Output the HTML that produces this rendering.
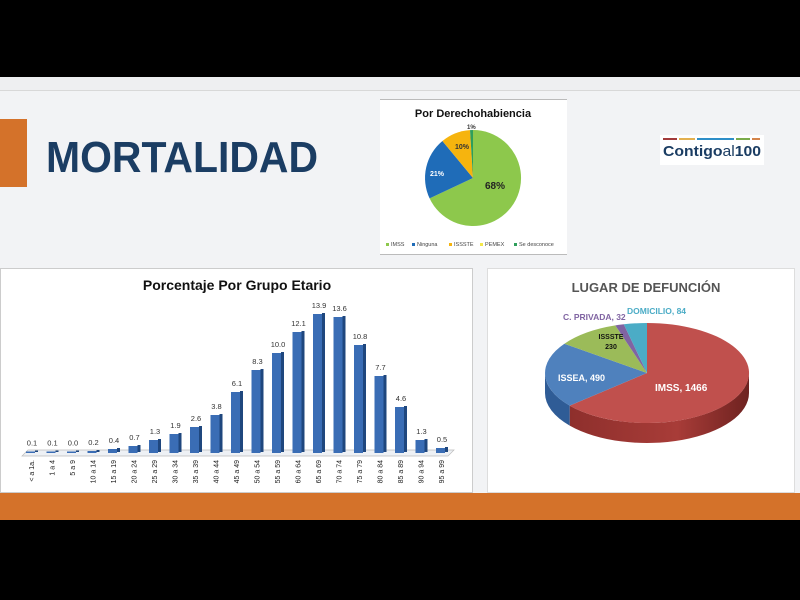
<!DOCTYPE html>
<html><head><meta charset="utf-8"><style>html,body{margin:0;padding:0;background:#000;}svg{display:block}</style></head>
<body>
<svg width="800" height="600" viewBox="0 0 800 600" xmlns="http://www.w3.org/2000/svg" font-family="Liberation Sans, sans-serif">
<defs>
<linearGradient id="red" x1="0" x2="1"><stop offset="0" stop-color="#8e2f2c"/><stop offset="0.6" stop-color="#a83c38"/><stop offset="1" stop-color="#6e2220"/></linearGradient>
</defs>
<rect x="0" y="0" width="800" height="600" fill="#000"/>
<rect x="0" y="77" width="800" height="13" fill="#eeeff1"/>
<rect x="0" y="90" width="800" height="403" fill="#f2f3f5"/>
<line x1="0" y1="90.5" x2="800" y2="90.5" stroke="#d8d8d8"/>
<rect x="0" y="119" width="27" height="68" fill="#d4722a"/>
<text x="46" y="172" font-size="44" font-weight="bold" fill="#1b3d63" textLength="272" lengthAdjust="spacingAndGlyphs">MORTALIDAD</text>

<rect x="380" y="99" width="187" height="156" fill="#fff"/>
<line x1="380" y1="99.5" x2="567" y2="99.5" stroke="#bbb"/>
<line x1="380" y1="254.5" x2="567" y2="254.5" stroke="#bbb"/>
<text x="473" y="117" font-size="11" font-weight="bold" text-anchor="middle" fill="#111">Por Derechohabiencia</text>
<path d="M473,178 L473,130 A48,48 0 1 1 429.6,198.4 Z" fill="#8dc84c"/>
<path d="M473,178 L429.6,198.4 A48,48 0 0 1 442.4,141 Z" fill="#1f6cb8"/>
<path d="M473,178 L442.4,141 A48,48 0 0 1 470,130.1 Z" fill="#f6b40e"/>
<path d="M473,178 L470,130.1 A48,48 0 0 1 473,130 Z" fill="#2e9e5b"/>
<text x="485" y="189" font-size="10" font-weight="bold" fill="#222">68%</text>
<text x="430" y="176" font-size="7" font-weight="bold" fill="#fff">21%</text>
<text x="455" y="149" font-size="7" font-weight="bold" fill="#333">10%</text>
<text x="467" y="129" font-size="6" font-weight="bold" fill="#333">1%</text>
<g font-size="5.5" fill="#444">
<rect x="386" y="243" width="3" height="3" fill="#8dc84c"/><text x="391" y="246">IMSS</text>
<rect x="412" y="243" width="3" height="3" fill="#1f6cb8"/><text x="417" y="246">Ninguna</text>
<rect x="449" y="243" width="3" height="3" fill="#f6b40e"/><text x="454" y="246">ISSSTE</text>
<rect x="480" y="243" width="3" height="3" fill="#f4e84a"/><text x="485" y="246">PEMEX</text>
<rect x="514" y="243" width="3" height="3" fill="#2e9e5b"/><text x="519" y="246">Se desconoce</text>
</g>

<rect x="660" y="135" width="104" height="30" fill="#fff"/>
<rect x="663" y="138" width="14" height="2" fill="#a23a3a"/>
<rect x="679" y="138" width="16" height="2" fill="#e3b04f"/>
<rect x="697" y="138" width="37" height="2" fill="#2e8fc8"/>
<rect x="736" y="138" width="14" height="2" fill="#7aab4a"/>
<rect x="752" y="138" width="8" height="2" fill="#d4844a"/>
<text x="663" y="156" font-size="15" font-weight="bold" fill="#1b3d63" textLength="98" lengthAdjust="spacingAndGlyphs">Contigo<tspan font-weight="normal">al</tspan>100</text>

<rect x="0" y="268" width="473" height="225" fill="#fff"/>
<rect x="0.5" y="268.5" width="472" height="224" fill="none" stroke="#ccc"/>
<text x="237" y="290" font-size="14" font-weight="bold" text-anchor="middle" fill="#111">Porcentaje Por Grupo Etario</text>
<polygon points="22,456 448,456 454,450 28,450" fill="#eef1f5" stroke="#bbb" stroke-width="0.7"/>
<g fill="#3a6db5">
<rect x="26" y="451.5" width="9" height="1.5"/>
<rect x="46.5" y="451.5" width="9" height="1.5"/>
<rect x="67" y="451.5" width="9" height="1.5"/>
<rect x="87.5" y="451" width="9" height="2"/>
<rect x="108" y="449" width="9" height="4"/>
<rect x="128.5" y="446" width="9" height="7"/>
<rect x="149" y="440" width="9" height="13"/>
<rect x="169.5" y="434" width="9" height="19"/>
<rect x="190" y="427" width="9" height="26"/>
<rect x="210.5" y="415" width="9" height="38"/>
<rect x="231" y="392" width="9" height="61"/>
<rect x="251.5" y="370" width="9" height="83"/>
<rect x="272" y="353" width="9" height="100"/>
<rect x="292.5" y="332" width="9" height="121"/>
<rect x="313" y="314" width="9" height="139"/>
<rect x="333.5" y="317" width="9" height="136"/>
<rect x="354" y="345" width="9" height="108"/>
<rect x="374.5" y="376" width="9" height="77"/>
<rect x="395" y="407" width="9" height="46"/>
<rect x="415.5" y="440" width="9" height="13"/>
<rect x="436" y="448" width="9" height="5"/>
</g>
<g fill="#1f477e">
<rect x="35" y="450.5" width="3" height="1.5"/>
<rect x="55.5" y="450.5" width="3" height="1.5"/>
<rect x="76" y="450.5" width="3" height="1.5"/>
<rect x="96.5" y="450" width="3" height="2"/>
<rect x="117" y="448" width="3" height="4"/>
<rect x="137.5" y="445" width="3" height="7"/>
<rect x="158" y="439" width="3" height="13"/>
<rect x="178.5" y="433" width="3" height="19"/>
<rect x="199" y="426" width="3" height="26"/>
<rect x="219.5" y="414" width="3" height="38"/>
<rect x="240" y="391" width="3" height="61"/>
<rect x="260.5" y="369" width="3" height="83"/>
<rect x="281" y="352" width="3" height="100"/>
<rect x="301.5" y="331" width="3" height="121"/>
<rect x="322" y="313" width="3" height="139"/>
<rect x="342.5" y="316" width="3" height="136"/>
<rect x="363" y="344" width="3" height="108"/>
<rect x="383.5" y="375" width="3" height="77"/>
<rect x="404" y="406" width="3" height="46"/>
<rect x="424.5" y="439" width="3" height="13"/>
<rect x="445" y="447" width="3" height="5"/>
</g>
<g font-size="7.5" text-anchor="middle" fill="#333">
<text x="32" y="445.5">0.1</text>
<text x="52.5" y="445.5">0.1</text>
<text x="73" y="445.5">0.0</text>
<text x="93.5" y="445">0.2</text>
<text x="114" y="443">0.4</text>
<text x="134.5" y="440">0.7</text>
<text x="155" y="434">1.3</text>
<text x="175.5" y="428">1.9</text>
<text x="196" y="421">2.6</text>
<text x="216.5" y="409">3.8</text>
<text x="237" y="386">6.1</text>
<text x="257.5" y="364">8.3</text>
<text x="278" y="347">10.0</text>
<text x="298.5" y="326">12.1</text>
<text x="319" y="308">13.9</text>
<text x="339.5" y="311">13.6</text>
<text x="360" y="339">10.8</text>
<text x="380.5" y="370">7.7</text>
<text x="401" y="401">4.6</text>
<text x="421.5" y="434">1.3</text>
<text x="442" y="442">0.5</text>
</g>
<g font-size="7" text-anchor="end" fill="#222">
<text transform="translate(34,460) rotate(-90)">&lt; a 1a.</text>
<text transform="translate(54.5,460) rotate(-90)">1 a 4</text>
<text transform="translate(75,460) rotate(-90)">5 a 9</text>
<text transform="translate(95.5,460) rotate(-90)">10 a 14</text>
<text transform="translate(116,460) rotate(-90)">15 a 19</text>
<text transform="translate(136.5,460) rotate(-90)">20 a 24</text>
<text transform="translate(157,460) rotate(-90)">25 a 29</text>
<text transform="translate(177.5,460) rotate(-90)">30 a 34</text>
<text transform="translate(198,460) rotate(-90)">35 a 39</text>
<text transform="translate(218.5,460) rotate(-90)">40 a 44</text>
<text transform="translate(239,460) rotate(-90)">45 a 49</text>
<text transform="translate(259.5,460) rotate(-90)">50 a 54</text>
<text transform="translate(280,460) rotate(-90)">55 a 59</text>
<text transform="translate(300.5,460) rotate(-90)">60 a 64</text>
<text transform="translate(321,460) rotate(-90)">65 a 69</text>
<text transform="translate(341.5,460) rotate(-90)">70 a 74</text>
<text transform="translate(362,460) rotate(-90)">75 a 79</text>
<text transform="translate(382.5,460) rotate(-90)">80 a 84</text>
<text transform="translate(403,460) rotate(-90)">85 a 89</text>
<text transform="translate(423.5,460) rotate(-90)">90 a 94</text>
<text transform="translate(444,460) rotate(-90)">95 a 99</text>
</g>

<rect x="487" y="268" width="308" height="225" fill="#fff"/>
<rect x="487.5" y="268.5" width="307" height="224" fill="none" stroke="#ddd"/>
<text x="646" y="292" font-size="13" font-weight="bold" text-anchor="middle" fill="#555">LUGAR DE DEFUNCIÓN</text>
<path d="M749,373 L749,393 A102,50 0 0 1 569.7,425.6 L569.7,405.6 A102,50 0 0 0 749,373 Z" fill="url(#red)"/>
<path d="M569.7,405.6 L569.7,425.6 A102,50 0 0 1 545,393 L545,373 A102,50 0 0 0 569.7,405.6 Z" fill="#2f5c96"/>
<path d="M647,373 L647,323 A102,50 0 1 1 569.7,405.6 Z" fill="#c0504d"/>
<path d="M647,373 L569.7,405.6 A102,50 0 0 1 564.4,343.7 Z" fill="#4f81bd"/>
<path d="M647,373 L564.4,343.7 A102,50 0 0 1 615.3,325.4 Z" fill="#9bbb59"/>
<path d="M647,373 L615.3,325.4 A102,50 0 0 1 623.8,324.3 Z" fill="#8064a2"/>
<path d="M647,373 L623.8,324.3 A102,50 0 0 1 647,323 Z" fill="#4bacc6"/>
<text x="655" y="391" font-size="10" font-weight="bold" fill="#fff">IMSS, 1466</text>
<text x="558" y="381" font-size="9" font-weight="bold" fill="#fff">ISSEA, 490</text>
<text x="611" y="339" font-size="7" font-weight="bold" fill="#111" text-anchor="middle">ISSSTE</text>
<text x="611" y="349" font-size="7" font-weight="bold" fill="#111" text-anchor="middle">230</text>
<text x="563" y="320" font-size="8.5" font-weight="bold" fill="#8064a2">C. PRIVADA, 32</text>
<text x="627" y="314" font-size="8.5" font-weight="bold" fill="#4bacc6">DOMICILIO, 84</text>

<rect x="0" y="493" width="800" height="27" fill="#d4722a"/>
<rect x="0" y="520" width="800" height="80" fill="#000"/>
</svg>
</body></html>
